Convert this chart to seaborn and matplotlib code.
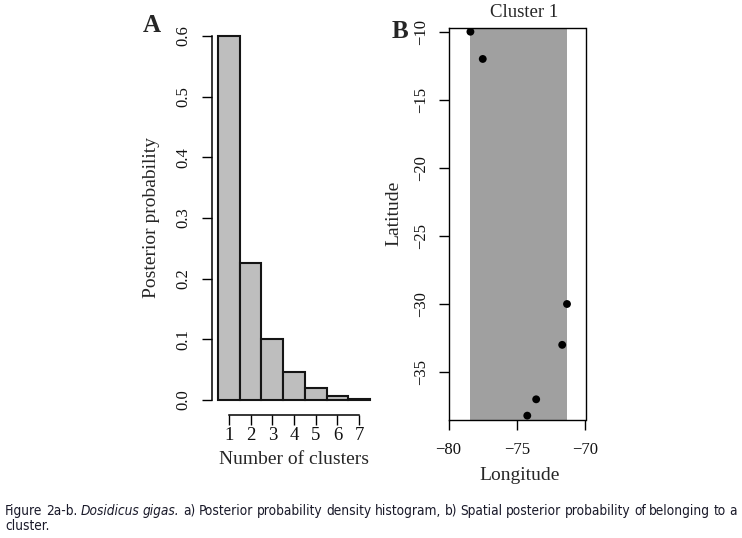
import matplotlib
matplotlib.use("Agg")
import matplotlib.pyplot as plt
import matplotlib.font_manager as fm
import seaborn as sns

# panel A: posterior probability of the number of clusters
clusters = [1, 2, 3, 4, 5, 6, 7]
posterior = [0.600, 0.225, 0.101, 0.046, 0.020, 0.006, 0.002]

# panel B: sampling sites (longitude, latitude)
lon = [-78.4, -77.5, -71.35, -71.7, -73.6, -74.25]
lat = [-10.0, -12.0, -30.0, -33.0, -37.0, -38.2]

yticks_a = [0.0, 0.1, 0.2, 0.3, 0.4, 0.5, 0.6]
xticks_b = [-80, -75, -70]
yticks_b = [-35, -30, -25, -20, -15, -10]

caption1 = [("Figure", "normal"), ("2a-b.", "normal"), ("Dosidicus", "italic"),
            ("gigas.", "italic"), ("a)", "normal"), ("Posterior", "normal"),
            ("probability", "normal"), ("density", "normal"), ("histogram,", "normal"),
            ("b)", "normal"), ("Spatial", "normal"), ("posterior", "normal"),
            ("probability", "normal"), ("of", "normal"), ("belonging", "normal"),
            ("to", "normal"), ("a", "normal")]
caption2 = "cluster."

sns.set_style("white")
plt.rcParams["font.family"] = ["Liberation Serif", "DejaVu Serif"]
plt.rcParams["axes.unicode_minus"] = True

W, H = 742, 538
fig = plt.figure(figsize=(7.42, 5.38), dpi=100)


def box(l, t, r, b):
    return [l / W, 1 - b / H, (r - l) / W, (b - t) / H]


def style_ticks(ax, xpad, ypad, xsize=12, ysize=12):
    ax.tick_params(axis="both", direction="out", length=7.2, width=1.0,
                   color="black", labelcolor="#111111", left=True, bottom=True)
    ax.tick_params(axis="x", pad=xpad, labelsize=xsize)
    ax.tick_params(axis="y", pad=ypad, labelsize=ysize)
    plt.setp(ax.get_yticklabels(), rotation=90, va="center")


# ---- A ----
axA = fig.add_axes(box(212, 21.5, 376, 414.5))
sns.histplot(x=clusters, weights=posterior, discrete=True, color="#bebebe",
             edgecolor="#151515", linewidth=1.5, alpha=1, ax=axA)
axA.set_xlim(0.22, 7.78)
axA.set_ylim(-0.024, 0.624)
axA.set_xticks(clusters)
axA.set_yticks(yticks_a)
axA.set_yticklabels([f"{v:.1f}" for v in yticks_a])
for side in ["top", "right"]:
    axA.spines[side].set_visible(False)
axA.spines["left"].set_bounds(0, 0.6)
axA.spines["bottom"].set_bounds(1, 7)
for side in ["left", "bottom"]:
    axA.spines[side].set_color("black")
    axA.spines[side].set_linewidth(1.1)
style_ticks(axA, 2, 8, xsize=13.5, ysize=12)
axA.set_xlabel("Number of clusters", fontsize=14)
axA.set_ylabel("Posterior probability", fontsize=14)
axA.xaxis.label.set_va("center")
axA.yaxis.label.set_va("center")
axA.xaxis.set_label_coords(0.5, (414.5 - 459) / 393)
axA.yaxis.set_label_coords((151 - 212) / 164, 0.5)

# ---- B ----
axB = fig.add_axes(box(448.5, 27.5, 585.5, 420))
axB.axvspan(min(lon), max(lon), color="#a0a0a0", lw=0, zorder=1)
sns.scatterplot(x=lon, y=lat, color="black", s=32, edgecolor="none",
                ax=axB, zorder=3)
axB.set_xlim(-80, -70)
axB.set_ylim(-38.52, -9.69)
axB.set_xticks(xticks_b)
axB.set_yticks(yticks_b)
for side in axB.spines.values():
    side.set_visible(True)
    side.set_color("black")
    side.set_linewidth(1.0)
style_ticks(axB, 9, 7)
axB.set_xlabel("Longitude", fontsize=14)
axB.set_ylabel("Latitude", fontsize=14)
axB.xaxis.label.set_va("center")
axB.yaxis.label.set_va("center")
axB.xaxis.set_label_coords((520 - 448.5) / 137, (420 - 475) / 392.5)
axB.yaxis.set_label_coords((393.5 - 448.5) / 137, 1 - (213 - 27.5) / 392.5)
axB.set_title("Cluster 1", fontsize=13.5, x=0.55, pad=7.5)

# panel letters
fig.text(152 / W, 1 - 32 / H, "A", fontsize=18, fontweight="bold",
         ha="center", va="baseline")
fig.text(400 / W, 1 - 38.3 / H, "B", fontsize=18, fontweight="bold",
         ha="center", va="baseline")

# caption, justified over the figure width; prefer a condensed sans if present
names = {(f.name, f.stretch) for f in fm.fontManager.ttflist}
if any(n == "Liberation Sans Narrow" for n, _ in names):
    cap_kw = dict(family="Liberation Sans Narrow", fontsize=10.5)
elif ("DejaVu Sans", "condensed") in names:
    cap_kw = dict(family="DejaVu Sans", fontstretch="condensed", fontsize=9.85)
else:
    cap_kw = dict(family="Liberation Sans", fontsize=9.8)

renderer = fig.canvas.get_renderer()
words = []
for w, st in caption1:
    t = fig.text(0, 1 - 515 / H, w, style=st, color="#1a1a2a",
                 ha="left", va="baseline", **cap_kw)
    words.append(t)
widths = [t.get_window_extent(renderer).width for t in words]
x0, x1 = 5, 737
gap = (x1 - x0 - sum(widths)) / (len(words) - 1)
x = x0
for t, wd in zip(words, widths):
    t.set_x(x / W)
    x += wd + gap
fig.text(x0 / W, 1 - 530 / H, caption2, color="#1a1a2a", ha="left",
         va="baseline", **cap_kw)

fig.savefig("out.png", dpi=100)
